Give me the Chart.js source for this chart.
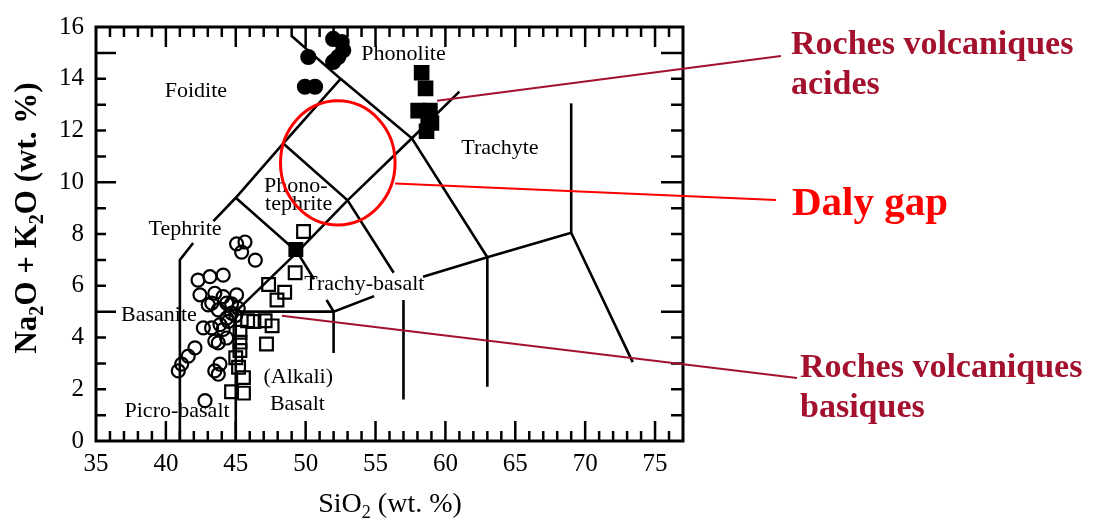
<!DOCTYPE html>
<html>
<head>
<meta charset="utf-8">
<script src="https://cdn.jsdelivr.net/npm/chart.js@4.4.1/dist/chart.umd.min.js"></script>
<style>
  html, body { margin: 0; padding: 0; background: #fff; }
  #wrap { width: 1096px; height: 525px; }
</style>
</head>
<body>
<div id="wrap"><canvas id="tas" width="1096" height="525"></canvas></div>
<script>
// TAS diagram: SiO2 vs Na2O + K2O
const xTickValues = [35, 40, 45, 50, 55, 60, 65, 70, 75];
const yTickValues = [0, 2, 4, 6, 8, 10, 12, 14, 16];

// filled circles (phonolites)
const phonoliteCircles = [
  [51.97, 15.54], [52.58, 15.42], [52.69, 15.1], [52.33, 14.84], [51.97, 14.65],
  [50.19, 14.84], [49.95, 13.69], [50.67, 13.69],
];
// filled squares (trachytes)
const trachyteSquares = [
  [58.3, 14.23], [58.58, 13.63], [58.05, 12.77], [58.89, 12.77], [58.77, 12.35],
  [59.0, 12.29], [58.65, 11.97],
];
const junctionSquare = [[49.3, 7.4]];
// open circles (basanites)
const basaniteCircles = [
  [45.06, 7.62], [45.66, 7.69], [45.42, 7.3], [46.4, 6.99],
  [42.3, 6.22], [43.15, 6.35], [44.1, 6.41],
  [42.44, 5.65], [43.5, 5.71], [44.1, 5.58], [45.06, 5.65],
  [43.03, 5.26], [43.28, 5.33], [44.35, 5.33], [44.7, 5.3],
  [43.75, 5.07], [44.7, 4.94], [45.18, 5.13], [45.0, 4.85],
  [44.35, 4.75], [44.46, 4.62],
  [42.68, 4.37], [43.27, 4.37], [43.87, 4.5], [44.1, 4.31],
  [43.75, 3.79], [44.35, 3.98], [43.5, 3.86],
  [42.08, 3.6], [41.6, 3.28], [41.13, 2.97], [40.89, 2.71],
  [43.87, 2.97], [43.75, 2.58], [43.5, 2.71],
  [42.8, 1.56],
];
// open squares (basalts, trachybasalts)
const basaltSquares = [
  [49.85, 8.1], [49.25, 6.5], [47.35, 6.05], [48.5, 5.75], [47.95, 5.45],
  [45.85, 4.65], [46.3, 4.62], [47.1, 4.65], [47.6, 4.45], [47.2, 3.75],
  [45.3, 4.2], [45.3, 3.82], [45.3, 3.5], [45.0, 3.22], [45.2, 2.85],
  [45.55, 2.45], [44.7, 1.9], [45.55, 1.85],
];

// field boundaries
const fieldLines = [
  [[41, 0], [41, 7], [41.95, 7.65]],
  [[43.4, 8.5], [45, 9.4], [48.4, 11.5], [52.5, 14], [49.0, 15.65]],
  [[52.5, 14], [57.6, 11.7], [63, 7.1]],
  [[45, 0], [45, 5], [52, 5], [54.9, 5.6]],
  [[58.4, 6.35], [63, 7.1], [69, 8.05], [73.4, 3.05]],
  [[45, 5], [49.4, 7.3], [53, 9.3], [57.6, 11.7], [61, 13.5]],
  [[45, 9.4], [49.4, 7.3], [50.6, 6.25]],
  [[51.5, 5.45], [52, 5], [52, 3.4]],
  [[48.4, 11.5], [53, 9.3], [56.3, 6.5]],
  [[57, 5.45], [57, 1.6]],
  [[63, 7.1], [63, 2.1]],
  [[69, 8.05], [69, 13.05]],
];

const fieldLabels = [
  ['Foidite', 42.15, 13.5], ['Phonolite', 57.0, 14.95], ['Trachyte', 63.9, 11.3],
  ['Phono-', 49.3, 9.85], ['tephrite', 49.5, 9.15], ['Tephrite', 41.37, 8.17],
  ['Basanite', 39.5, 4.88], ['Trachy-basalt', 54.2, 6.04], ['(Alkali)', 49.47, 2.48],
  ['Basalt', 49.41, 1.44], ['Picro-basalt', 40.8, 1.15],
];

const serif = '"Liberation Serif", "Times New Roman", serif';
const darkRed = '#a3112e';
const area = { left: 96, top: 22, right: 683, bottom: 441 };

const pts = (arr) => arr.map(([x, y]) => ({ x, y }));

const lineSets = fieldLines.map((seg) => ({
  data: pts(seg), showLine: true, borderColor: '#000', borderWidth: 2.6,
  pointRadius: 0, fill: false, tension: 0, order: 5,
}));

function pointSet(arr, style, r, filled) {
  return {
    data: pts(arr), showLine: false, pointStyle: style, pointRadius: r,
    pointBorderColor: '#000', pointBorderWidth: 2.2,
    pointBackgroundColor: filled ? '#000' : 'rgba(0,0,0,0)', order: 1,
  };
}

function drawRich(ctx, parts, x, y, size, weight) {
  const f = (s) => `${weight} ${s}px ${serif}`;
  let w = 0;
  parts.forEach((p) => { ctx.font = f(p.sub ? size * 0.65 : size); w += ctx.measureText(p.t).width; });
  let cx = x - w / 2;
  parts.forEach((p) => {
    const s = p.sub ? size * 0.65 : size;
    ctx.font = f(s);
    ctx.fillText(p.t, cx, y + (p.sub ? size * 0.22 : 0));
    cx += ctx.measureText(p.t).width;
  });
}

const framePlugin = {
  id: 'frame',
  afterDatasetsDraw(chart) {
    const { ctx, chartArea: a, scales: { x, y } } = chart;
    ctx.save();
    // field names
    ctx.fillStyle = '#000';
    ctx.font = `22px ${serif}`;
    ctx.textAlign = 'center';
    ctx.textBaseline = 'middle';
    fieldLabels.forEach(([t, vx, vy]) => ctx.fillText(t, x.getPixelForValue(vx), y.getPixelForValue(vy)));
    // frame + inward ticks
    ctx.strokeStyle = '#000';
    ctx.lineWidth = 3;
    ctx.strokeRect(a.left, a.top, a.right - a.left, a.bottom - a.top);
    ctx.lineWidth = 2.5;
    ctx.beginPath();
    for (let v = 36; v < 77; v++) {
      const px = x.getPixelForValue(v), len = v % 5 === 0 ? 20 : 10;
      ctx.moveTo(px, a.bottom); ctx.lineTo(px, a.bottom - len);
      ctx.moveTo(px, a.top); ctx.lineTo(px, a.top + len);
    }
    for (let v = 1; v < 16; v++) {
      const py = y.getPixelForValue(v), len = v % 5 === 0 ? 20 : 10;
      ctx.moveTo(a.left, py); ctx.lineTo(a.left + len, py);
      ctx.moveTo(a.right, py); ctx.lineTo(a.right - len - 2, py);
    }
    ctx.stroke();
    ctx.restore();
  },
  afterDraw(chart) {
    const { ctx, scales: { x, y } } = chart;
    ctx.save();
    ctx.fillStyle = '#000';
    ctx.textAlign = 'left';
    ctx.textBaseline = 'alphabetic';
    // axis titles
    drawRich(ctx, [{ t: 'SiO' }, { t: '2', sub: true }, { t: ' (wt. %)' }], 390, 512, 28, 'normal');
    ctx.save();
    ctx.translate(36, 218);
    ctx.rotate(-Math.PI / 2);
    drawRich(ctx, [{ t: 'Na' }, { t: '2', sub: true }, { t: 'O + K' }, { t: '2', sub: true }, { t: 'O (wt. %)' }], 0, 0, 31, 'bold');
    ctx.restore();

    // Daly gap ellipse
    const cx = x.getPixelForValue(52.3), cy = y.getPixelForValue(10.75);
    const rx = x.getPixelForValue(56.4) - cx, ry = cy - y.getPixelForValue(13.15);
    ctx.strokeStyle = '#ff0000';
    ctx.lineWidth = 3;
    ctx.beginPath();
    ctx.ellipse(cx, cy, rx, ry, 0, 0, Math.PI * 2);
    ctx.stroke();
    ctx.lineWidth = 2;
    ctx.beginPath();
    ctx.moveTo(cx + rx, y.getPixelForValue(9.95));
    ctx.lineTo(776, 200);
    ctx.stroke();

    ctx.strokeStyle = darkRed;
    ctx.beginPath();
    ctx.moveTo(x.getPixelForValue(59.4), y.getPixelForValue(13.15));
    ctx.lineTo(781, 56);
    ctx.moveTo(x.getPixelForValue(48.3), y.getPixelForValue(4.84));
    ctx.lineTo(797, 378);
    ctx.stroke();

    ctx.fillStyle = darkRed;
    ctx.font = `bold 34px ${serif}`;
    ctx.fillText('Roches volcaniques', 791, 54);
    ctx.fillText('acides', 791, 94);
    ctx.fillText('Roches volcaniques', 800, 377);
    ctx.fillText('basiques', 800, 417);
    ctx.fillStyle = '#ff0000';
    ctx.font = `bold 41px ${serif}`;
    ctx.fillText('Daly gap', 792, 215);
    ctx.restore();
  },
};

const tickFont = { family: serif, size: 25 };

const chart = new Chart(document.getElementById('tas').getContext('2d'), {
  type: 'scatter',
  data: {
    datasets: [
      ...lineSets,
      pointSet(basaniteCircles, 'circle', 6.5, false),
      pointSet(basaltSquares, 'rect', 9, false),
      pointSet(phonoliteCircles, 'circle', 7, true),
      pointSet(trachyteSquares, 'rect', 9.5, true),
      pointSet(junctionSquare, 'rect', 9, true),
    ],
  },
  options: {
    responsive: false,
    animation: false,
    layout: { padding: { top: 22, right: 413, left: 0, bottom: 0 } },
    plugins: { legend: { display: false }, tooltip: { enabled: false } },
    scales: {
      x: {
        type: 'linear', min: 35, max: 77,
        grid: { display: false, drawTicks: false }, border: { display: false },
        afterBuildTicks: (s) => { s.ticks = xTickValues.map((v) => ({ value: v })); },
        afterFit: (s) => { s.height = 84; },
        ticks: { font: tickFont, color: '#000', padding: 8, maxRotation: 0, autoSkip: false },
      },
      y: {
        type: 'linear', min: 0, max: 16,
        grid: { display: false, drawTicks: false }, border: { display: false },
        afterBuildTicks: (s) => { s.ticks = yTickValues.map((v) => ({ value: v })); },
        afterFit: (s) => { s.width = 96; },
        ticks: { font: tickFont, color: '#000', padding: 12, autoSkip: false },
      },
    },
  },
  plugins: [framePlugin],
});

// nudge the plot box onto the reference frame
const ca = chart.chartArea;
const pad = chart.options.layout.padding;
pad.top += area.top - ca.top;
pad.bottom += ca.bottom - area.bottom;
pad.left += area.left - ca.left;
pad.right += ca.right - area.right;
chart.update();
</script>
</body>
</html>
